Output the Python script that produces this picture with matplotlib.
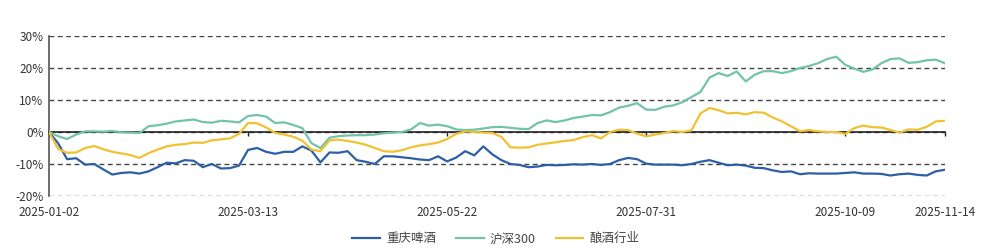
import matplotlib
matplotlib.use('Agg')
import matplotlib.pyplot as plt
import numpy as np

plt.rcParams['font.family'] = ['Noto Sans CJK SC', 'DejaVu Sans']

# 每两个交易日取一个点（累计收益率，%）
tick_labels = ['2025-01-02', '2025-03-13', '2025-05-22', '2025-07-31', '2025-10-09', '2025-11-14']
tick_idx = [0, 22, 44, 66, 88, 99]

chongqing = [0, -3.5, -8.5, -8.2, -10.2, -10.0, -11.7, -13.3, -12.8, -12.6,
             -13.0, -12.3, -11.0, -9.6, -9.8, -8.8, -9.0, -11.0, -10.0, -11.4,
             -11.3, -10.5, -5.6, -5.0, -6.2, -6.8, -6.2, -6.2, -4.5, -5.8,
             -9.5, -6.4, -6.5, -6.0, -8.8, -9.3, -10.0, -7.6, -7.6, -7.9,
             -8.2, -8.6, -8.8, -7.6, -9.2, -8.0, -6.0, -7.3, -4.5, -7.0,
             -8.8, -10.0, -10.3, -11.0, -10.8, -10.3, -10.4, -10.3, -10.1, -10.2,
             -10.0, -10.3, -10.0, -8.8, -8.1, -8.5, -9.9, -10.2, -10.2, -10.2,
             -10.4, -10.0, -9.3, -8.8, -9.6, -10.4, -10.2, -10.5, -11.2, -11.3,
             -12.0, -12.5, -12.3, -13.2, -12.9, -13.0, -13.0, -13.0, -12.8, -12.6,
             -13.0, -13.0, -13.1, -13.6, -13.2, -13.0, -13.4, -13.6, -12.3, -11.8]

hs300 = [0, -1.3, -2.2, -0.8, 0.2, 0.2, 0.1, 0.3, -0.1, -0.2,
         -0.3, 1.8, 2.1, 2.6, 3.3, 3.6, 3.9, 3.1, 2.9, 3.5,
         3.3, 3.0, 5.0, 5.3, 4.8, 2.8, 3.0, 2.2, 1.2, -3.5,
         -5.0, -1.8, -1.3, -1.1, -1.0, -1.0, -0.8, -0.4, -0.2, 0.0,
         0.8, 2.8, 2.0, 2.3, 1.8, 0.8, 0.6, 0.7, 1.1, 1.5,
         1.6, 1.3, 1.0, 0.9, 2.8, 3.6, 3.1, 3.6, 4.4, 4.8,
         5.3, 5.2, 6.2, 7.6, 8.2, 9.0, 7.0, 6.9, 7.9, 8.3,
         9.3, 10.9, 12.5, 17.0, 18.4, 17.5, 18.9, 15.8, 17.9, 19.0,
         19.0, 18.4, 19.0, 20.0, 20.6, 21.5, 22.8, 23.5, 21.0, 19.8,
         18.8, 19.5, 21.5, 22.8, 23.0, 21.6, 21.8, 22.4, 22.6, 21.5]

brewing = [0, -5.3, -6.5, -6.4, -5.0, -4.4, -5.4, -6.2, -6.7, -7.2,
           -8.1, -6.6, -5.5, -4.5, -4.0, -3.8, -3.3, -3.4, -2.6, -2.3,
           -2.0, -0.6, 2.8, 2.7, 1.4, -0.3, -0.8, -1.5, -2.7, -5.5,
           -6.0, -2.6, -2.4, -2.8, -3.3, -4.0, -5.0, -6.0, -6.2, -5.7,
           -4.8, -4.2, -3.8, -3.3, -2.2, -0.6, 0.2, 0.0, -0.2, -0.3,
           -1.5, -4.8, -4.9, -4.8, -4.0, -3.6, -3.2, -2.8, -2.5, -1.6,
           -1.0, -2.0, 0.0, 0.7, 0.6, -0.5, -1.4, -0.8, -0.3, 0.3,
           0.0, 0.5, 5.8, 7.5, 6.8, 5.8, 6.0, 5.5, 6.2, 6.0,
           4.5, 3.3, 1.8, 0.2, 0.6, 0.2, 0.0, 0.0, -0.6, 1.2,
           2.0, 1.5, 1.4, 0.6, -0.2, 0.8, 0.7, 1.6, 3.3, 3.5]

names = ['重庆啤酒', '沪深300', '酿酒行业']
colors = ['#2d5fa6', '#72c2ac', '#f0c232']

fig = plt.figure(figsize=(9.92, 2.48), dpi=100)
ax = fig.add_axes([0.0494, 0.2097, 0.903, 0.6453])

x = np.arange(len(chongqing))
for y, name, c in zip([chongqing, hs300, brewing], names, colors):
    ax.plot(x, y, color=c, lw=1.6, label=name, zorder=3)

ax.set_xlim(0, len(x) - 1)
ax.set_ylim(-20, 30)
ax.set_yticks([-20, -10, 0, 10, 20, 30])
ax.set_yticklabels([f'{v}%' for v in [-20, -10, 0, 10, 20, 30]])
ax.yaxis.grid(True, color='#444444', linestyle=(0, (3.5, 2.5)), lw=1.0)
ax.set_axisbelow(True)

for s in ['top', 'right']:
    ax.spines[s].set_visible(False)
ax.spines['left'].set_color('#555555')
ax.spines['left'].set_linewidth(1.2)
ax.spines['bottom'].set_position(('data', 0))
ax.spines['bottom'].set_color('#222222')
ax.spines['bottom'].set_linewidth(1.2)
ax.tick_params(axis='y', length=0, labelsize=8.5, labelcolor='#333333', pad=4)
ax.set_xticks(tick_idx)
ax.tick_params(axis='x', length=3, width=1, color='#222222', labelbottom=False)

sec = ax.secondary_xaxis('bottom')
sec.set_xticks(tick_idx)
sec.set_xticklabels(tick_labels)
sec.tick_params(length=0, labelsize=8.5, labelcolor='#333333', pad=7)
sec.spines['bottom'].set_visible(False)

fig.legend(loc='lower center', bbox_to_anchor=(0.5, -0.035), ncol=3, frameon=False,
           fontsize=9, handlelength=2.2, columnspacing=1.6, handletextpad=0.5,
           labelcolor='#444444')

fig.savefig('out.png', dpi=100)
